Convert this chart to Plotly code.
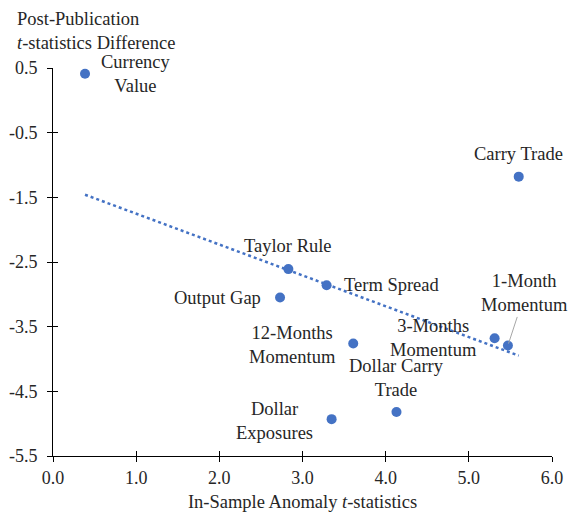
import numpy as np
import plotly.graph_objects as go

# ---- data ----
names = ["Currency<br>Value", "Carry Trade", "Taylor Rule", "Term Spread", "Output Gap",
         "12-Months<br>Momentum", "3-Months<br>Momentum", "1-Month<br>Momentum",
         "Dollar Carry<br>Trade", "Dollar<br>Exposures"]
in_sample_t = [0.385, 5.60, 2.83, 3.29, 2.73, 3.61, 5.31, 5.47, 4.13, 3.35]
post_pub_diff = [0.41, -1.18, -2.61, -2.86, -3.05, -3.76, -3.68, -3.79, -4.82, -4.93]
x_ticks = [0, 1, 2, 3, 4, 5, 6]
y_ticks = [-5.5, -4.5, -3.5, -2.5, -1.5, -0.5, 0.5]

# ---- styles ----
BLUE = "#4472C4"
TXT = "#262626"
FONT = "Liberation Serif"
FS = 18.5
TFS = 18
# label offsets (pixels): (xshift, yshift, xanchor)
label_style = [
    (51, 0, "center"), (0, 23, "center"), (0, 23, "center"), (15, 0, "left"),
    (-17, 0, "right"), (-61, -2, "center"), (-61, 0, "center"), None,
    (0, 34, "center"), (-57, -2, "center"),
]

x = np.array(in_sample_t)
y = np.array(post_pub_diff)
slope, intercept = np.polyfit(x, y, 1)
xl = np.array([x.min(), x.max()])
yl = slope * xl + intercept

fig = go.Figure()
fig.add_trace(go.Scatter(x=xl, y=yl, mode="lines",
                         line=dict(color=BLUE, width=2.5, dash="dot"),
                         hoverinfo="skip", showlegend=False))
fig.add_trace(go.Scatter(x=x, y=y, mode="markers",
                         marker=dict(color=BLUE, size=10),
                         showlegend=False))

for i, nm in enumerate(names):
    st = label_style[i]
    if st is None:
        fig.add_annotation(x=x[i], y=y[i], text=nm, showarrow=True,
                           arrowhead=0, arrowcolor="#A6A6A6", arrowwidth=1,
                           ax=17, ay=-52, standoff=2,
                           font=dict(family=FONT, size=FS, color=TXT), align="center")
    else:
        xs, ys, xa = st
        fig.add_annotation(x=x[i], y=y[i], text=nm, showarrow=False,
                           xshift=xs, yshift=ys, xanchor=xa, yanchor="middle",
                           align="center" if xa == "center" else xa,
                           font=dict(family=FONT, size=FS, color=TXT))

fig.add_annotation(xref="paper", yref="paper", x=-53/499, y=1 + 37/388,
                   text="Post-Publication<br><i>t</i>-statistics Difference",
                   showarrow=False, xanchor="left", yanchor="middle", align="left",
                   xshift=15,
                   font=dict(family=FONT, size=FS, color=TXT))

axis_common = dict(showgrid=False, zeroline=False, showline=True, linecolor="#000000",
                   linewidth=1, ticks="outside", ticklen=5, tickcolor="#000000",
                   automargin=False,
                   tickfont=dict(family=FONT, size=TFS, color=TXT))

fig.update_layout(
    width=568, height=516,
    margin=dict(l=53, r=16, t=68, b=60),
    plot_bgcolor="white", paper_bgcolor="white",
    font=dict(family=FONT, size=FS, color=TXT),
    xaxis=dict(range=[0, 6], tickvals=x_ticks, ticktext=[f"{v:.1f}" for v in x_ticks],
               title=dict(text="In-Sample Anomaly <i>t</i>-statistics", standoff=8,
                          font=dict(family=FONT, size=FS, color=TXT)),
               **axis_common),
    yaxis=dict(range=[-5.5, 0.5], tickvals=y_ticks, ticktext=[f"{v:.1f}" for v in y_ticks],
               ticklabelstandoff=6, **axis_common),
    xaxis2=dict(range=[0, 6], tickvals=x_ticks, overlaying="x", side="bottom",
                showticklabels=False, ticks="inside", ticklen=5, tickcolor="#000000",
                showgrid=False, zeroline=False, showline=False, anchor="y"),
    yaxis2=dict(range=[-5.5, 0.5], tickvals=y_ticks, overlaying="y", side="left",
                showticklabels=False, ticks="inside", ticklen=5, tickcolor="#000000",
                showgrid=False, zeroline=False, showline=False, anchor="x"),
)
fig.add_trace(go.Scatter(x=[None], y=[None], xaxis="x2", yaxis="y2",
                         showlegend=False, hoverinfo="skip"))

fig.write_html("out.html", config={"displayModeBar": False},
               post_script="document.body.style.margin='0';document.body.style.overflow='hidden';")
